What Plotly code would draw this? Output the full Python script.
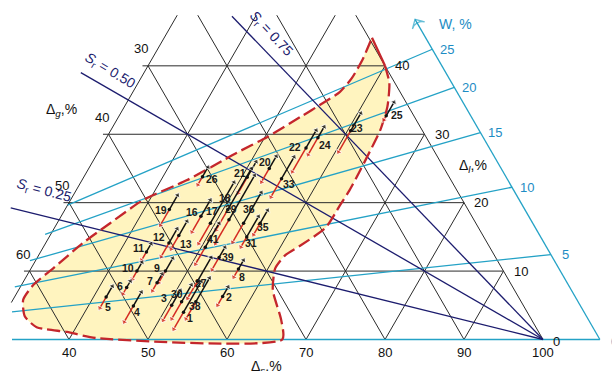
import numpy as np
import plotly.graph_objects as go

H = np.sqrt(3) / 2

# ---------------- data ----------------
DS_TICKS = [40, 50, 60, 70, 80, 90, 100]
DL_TICKS = [0, 10, 20, 30, 40]
DG_TICKS = [30, 40, 50, 60]
W_TICKS = [0, 5, 10, 15, 20, 25]
SR_LINES = [0.25, 0.50, 0.75]
SR_LABELS = ["0.25", "0.50", "0.75"]
GS = 2.62
W_AXIS_SUM = 107.2

REGION_DS = [56.3, 60.0, 61.8, 63.3, 64.1, 64.3, 64.5, 64.6, 64.5, 64.3, 62.4, 61.2, 60.9, 62.2, 65.4, 67.0,
             43.4, 39.2, 35.0, 32.7, 31.3, 31.5, 32.8, 34.7, 36.7, 39.2, 43.3, 47.6, 50.3, 53.0, 54.9,
             56.2, 56.7, 56.7, 56.3]
REGION_DL = [44.1, 40.0, 37.5, 34.0, 30.6, 28.1, 24.8, 21.8, 19.7, 16.3, 13.7, 12.3, 10.4, 7.2, 2.9, 0.0,
             0.2, 1.1, 1.8, 3.4, 5.8, 8.0, 10.4, 14.1, 17.0, 20.4, 23.3, 27.3, 29.6, 32.5, 34.6,
             36.2, 38.2, 40.9, 44.1]

SAMPLE_ID = [1, 2, 3, 4, 5, 6, 7, 8, 9, 10, 11, 12, 13, 16, 17, 18, 19, 20, 21, 22, 23, 24, 25, 26,
             27, 29, 30, 31, 33, 35, 36, 38, 39, 41]
SAMPLE_DS = [52.5, 56.3, 50.5, 45.7, 41.6, 43.5, 47.0, 56.3, 47.2, 43.6, 43.4, 45.6, 46.3, 47.7, 49.4,
             50.6, 43.2, 52.85, 50.7, 56.0, 60.4, 56.76, 63.8, 45.0, 52.0, 51.5, 51.5, 55.0, 55.15,
             55.7, 53.6, 53.3, 53.0, 50.5]
SAMPLE_DL_DRY = [1.5, 5.0, 2.8, 2.55, 4.6, 6.65, 7.1, 9.1, 8.3, 8.8, 11.6, 12.1, 13.2, 15.7, 14.0,
                 16.0, 16.7, 23.0, 21.4, 24.5, 27.4, 27.0, 32.1, 22.6, 6.0, 14.0, 3.0, 13.5, 20.8,
                 15.3, 14.2, 3.0, 10.2, 11.0]
SAMPLE_DL_MID = [4.0, 6.3, 5.0, 4.9, 6.2, 7.6, 8.3, 10.3, 10.0, 10.0, 12.8, 14.1, 15.2, 18.0, 17.0,
                 19.0, 19.0, 25.0, 23.7, 28.0, 30.5, 29.5, 32.7, 23.8, 8.5, 17.5, 5.5, 15.0, 23.5,
                 17.0, 17.0, 5.5, 12.0, 13.5]
SAMPLE_DL_WET = [8.5, 7.7, 7.2, 6.95, 7.8, 8.55, 9.6, 11.6, 11.9, 11.3, 14.0, 16.2, 17.3, 20.4, 23.0,
                 25.0, 21.1, 26.8, 26.0, 30.6, 33.1, 31.1, 34.7, 25.2, 12.0, 24.0, 8.0, 18.0, 26.7,
                 18.9, 21.5, 9.0, 13.5, 17.0]

# ---------------- layout constants (pixels) ----------------
LABEL_DXY = {1: (6, 6), 2: (6, 1), 3: (-8, -7), 4: (4, 6), 5: (2, 10), 6: (-7, -2), 7: (-7, -2),
             8: (4, 8), 9: (-8, -3), 10: (-9, -3), 11: (-8, -4), 12: (-10, -6), 13: (7, 8),
             16: (-9, -4), 17: (2, -12), 18: (-3, -12), 19: (-8, 0), 20: (-4, -6), 21: (-7, -4),
             22: (-11, -1), 23: (6, -3), 24: (7, 7), 25: (11, -1), 26: (9, 2), 27: (4, 2),
             29: (2, -11), 30: (-5, -8), 31: (4, 6), 33: (7, 5), 35: (3, 4), 36: (5, -14),
             38: (-1, 4), 39: (9, 0), 41: (8, -8)}
W, HGT = 612, 371
PX = 7.9
X0_PX, Y0_PX = 543, 339.5
TOP_DL = 47.4
LEFT_DS = 30
SR_TEND = [77, 78, 63]

GRID = "#2b2b2b"
CYAN = "#24a2c6"
CYAN_TXT = "#1d8cc4"
NAVY = "#1c1c6e"
RED = "#c4262c"
YEL = "#fff4bf"
FONT = "Liberation Sans, Arial, sans-serif"


def XY(ds, dl):
    ds = np.asarray(ds, dtype=float)
    dl = np.asarray(dl, dtype=float)
    return ds + dl / 2.0, dl * H


def seg_trace(segs, color, width, dash=None):
    xs, ys = [], []
    for (a, b) in segs:
        x, y = XY([a[0], b[0]], [a[1], b[1]])
        xs += list(x) + [None]
        ys += list(y) + [None]
    return go.Scatter(x=xs, y=ys, mode="lines", hoverinfo="skip",
                      line=dict(color=color, width=width, dash=dash))


fig = go.Figure()

rx, ry = XY(REGION_DS, REGION_DL)
fig.add_trace(go.Scatter(x=rx, y=ry, mode="lines", fill="toself", fillcolor=YEL,
                         line=dict(width=0, shape="spline", smoothing=0.6), hoverinfo="skip"))

segs = []
for h in [10, 20, 30, 40]:
    segs.append(((LEFT_DS - 0.7, h), (100 - h, h)))
for s in range(30, 100, 10):
    lo = 5.4 if s == 30 else 0
    hi = min(TOP_DL, 100 - s)
    segs.append(((s, lo), (s, hi)))
for g in range(0, 70, 10):
    hi = min(TOP_DL, 70 - g)
    segs.append(((100 - g, 0), (100 - g - hi, hi)))
fig.add_trace(seg_trace(segs, GRID, 1.0))

X_LEFT = 100 - X0_PX / PX + 12 / PX
wsegs = []
for wv in W_TICKS:
    k = wv * GS / 100.0
    ds_end = W_AXIS_SUM / (1 + k)
    ds_start = max(29.3, X_LEFT / (1 + k / 2))
    if wv == 25:
        ds_start = 30.0
    wsegs.append(((ds_start, k * ds_start), (ds_end, k * ds_end)))
fig.add_trace(seg_trace(wsegs, CYAN, 1.3))
axx, axy = XY([W_AXIS_SUM, W_AXIS_SUM - 46.8], [0, 46.8])
fig.add_trace(go.Scatter(x=axx, y=axy, mode="lines+markers", hoverinfo="skip",
                         line=dict(color=CYAN, width=1.3),
                         marker=dict(symbol="arrow-wide-open", size=[0, 10], angleref="previous",
                                     color=CYAN, line=dict(color=CYAN, width=1.3))))

ssegs = []
for sr, te in zip(SR_LINES, SR_TEND):
    ssegs.append(((100, 0), (100 - te, sr * te)))
fig.add_trace(seg_trace(ssegs, NAVY, 1.3))

sx, sy = XY(REGION_DS[:2], REGION_DL[:2])
fig.add_trace(go.Scatter(x=sx, y=sy, mode="lines", line=dict(color=RED, width=2.3), hoverinfo="skip"))
dx_, dy_ = XY(REGION_DS[1:], REGION_DL[1:])
fig.add_trace(go.Scatter(x=dx_, y=dy_, mode="lines", hoverinfo="skip",
                         line=dict(color=RED, width=2.3, dash="13px,5px", shape="spline", smoothing=0.6)))

bx, by, bs, rxa, rya, rs = [], [], [], [], [], []
for ds, d0, dm, d1 in zip(SAMPLE_DS, SAMPLE_DL_DRY, SAMPLE_DL_MID, SAMPLE_DL_WET):
    x, y = XY([ds, ds], [dm, d1])
    bx += list(x) + [None]; by += list(y) + [None]; bs += [0, 6, 0]
    x, y = XY([ds, ds], [dm, d0])
    rxa += list(x) + [None]; rya += list(y) + [None]; rs += [0, 6, 0]
fig.add_trace(go.Scatter(x=rxa, y=rya, mode="lines+markers", hoverinfo="skip",
                         line=dict(color="#d42a22", width=1.5),
                         marker=dict(symbol="triangle-up", size=rs, angleref="previous", color="#d42a22")))
fig.add_trace(go.Scatter(x=bx, y=by, mode="lines+markers", hoverinfo="skip",
                         line=dict(color="#111111", width=1.5),
                         marker=dict(symbol="triangle-up", size=bs, angleref="previous", color="#111111")))
mx, my = XY(SAMPLE_DS, SAMPLE_DL_MID)
fig.add_trace(go.Scatter(x=mx, y=my, mode="markers", hoverinfo="skip",
                         marker=dict(size=3.5, color="#111111")))

ann = []
for sid, x, y in zip(SAMPLE_ID, mx, my):
    ddx, ddy = LABEL_DXY[sid]
    ann.append(dict(x=x, y=y, xref="x", yref="y", text="<b>" + str(sid) + "</b>", showarrow=False,
                    xanchor="center", yanchor="middle",
                    xshift=ddx, yshift=-ddy, font=dict(size=10.5, color="#1a1a1a", family=FONT)))

for v in DS_TICKS:
    x, y = XY(v, 0)
    ann.append(dict(x=float(x), y=float(y), xref="x", yref="y", text=str(v), showarrow=False,
                    xanchor="center", yanchor="middle",
                    yshift=-13, font=dict(size=13, color="#111111", family=FONT)))
for v in DL_TICKS:
    x, y = XY(100 - v, v)
    ann.append(dict(x=float(x), y=float(y), xref="x", yref="y", text=str(v), showarrow=False,
                    xanchor="center", yanchor="middle",
                    xshift=13 if v == 0 else 17, yshift=-2 if v == 0 else 0,
                    font=dict(size=13, color="#111111", family=FONT)))
for v in DG_TICKS:
    x, y = XY(LEFT_DS, 70 - v)
    ann.append(dict(x=float(x), y=float(y), xref="x", yref="y", text=str(v), showarrow=False,
                    xanchor="center", yanchor="middle",
                    xshift=-7, yshift=17, font=dict(size=13, color="#111111", family=FONT)))
for wv in W_TICKS:
    k = wv * GS / 100.0
    dl = W_AXIS_SUM * k / (1 + k)
    x, y = XY(W_AXIS_SUM - dl, dl)
    ann.append(dict(x=float(x), y=float(y), xref="x", yref="y", text=str(wv), showarrow=False,
                    xanchor="center", yanchor="middle",
                    xshift=15, yshift=-2 if wv == 0 else 0,
                    font=dict(size=13, color=CYAN_TXT, family=FONT)))


def paper(px, py):
    return px / W, 1 - py / HGT


for txt, (px, py), col in [("Δ<sub><i>g</i></sub>,%", (61, 110), "#111111"),
                           ("Δ<sub><i>l</i></sub>,%", (473, 166), "#111111"),
                           ("Δ<sub><i>s</i></sub>,%", (266, 367), "#111111"),
                           ("W, %", (455, 24), CYAN_TXT)]:
    x, y = paper(px, py)
    ann.append(dict(x=x, y=y, xref="paper", yref="paper", text=txt, showarrow=False,
                    xanchor="center", yanchor="middle",
                    font=dict(size=14, color=col, family=FONT)))

for lab, (px, py), ang in zip(SR_LABELS, [(44, 191), (110, 71), (271, 34)], [15, 31, 47]):
    x, y = paper(px, py)
    ann.append(dict(x=x, y=y, xref="paper", yref="paper", text="<i>S</i><sub>r</sub> = " + lab,
                    xanchor="center", yanchor="middle",
                    showarrow=False, textangle=ang, font=dict(size=14, color=NAVY, family=FONT)))

x_lo = 100 - X0_PX / PX
x_hi = x_lo + W / PX
y_hi = Y0_PX / PX
y_lo = y_hi - HGT / PX
fig.update_layout(width=W, height=HGT, margin=dict(l=0, r=0, t=0, b=0),
                  paper_bgcolor="white", plot_bgcolor="white", showlegend=False,
                  xaxis=dict(range=[x_lo, x_hi], visible=False, fixedrange=True),
                  yaxis=dict(range=[y_lo, y_hi], visible=False, fixedrange=True),
                  annotations=ann)
fig.write_html("out.html", config={"displayModeBar": False},
               post_script="document.body.style.margin='0px';document.body.style.overflow='hidden';")
